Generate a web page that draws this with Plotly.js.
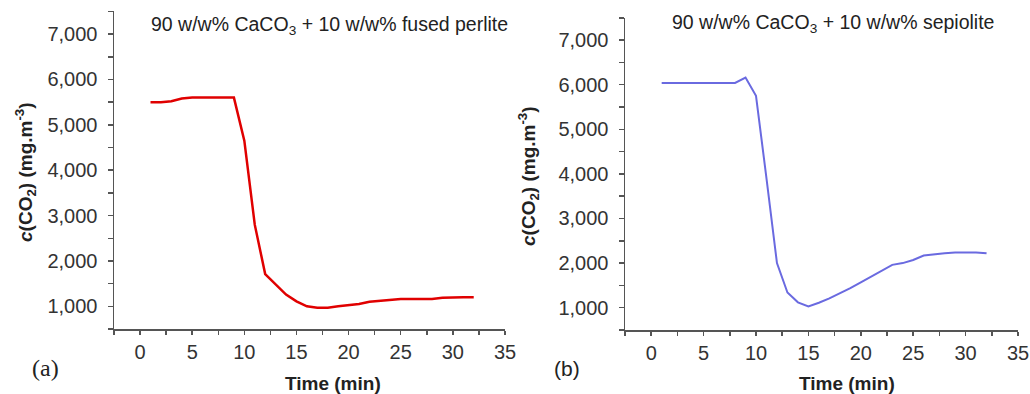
<!DOCTYPE html>
<html>
<head>
<meta charset="utf-8">
<script src="https://cdn.plot.ly/plotly-3.0.1.min.js"></script>
<style>html,body{margin:0;padding:0;background:#fff;}#chart{width:1030px;height:394px;}</style>
</head>
<body>
<div id="chart"></div>
<script>
// Time (min)
const timeA = [1,2,3,4,5,6,7,8,9,10,11,12,13,14,15,16,17,18,19,20,21,22,23,24,25,26,27,28,29,30,31,32];
// c(CO2) for 90 w/w% CaCO3 + 10 w/w% fused perlite (mg.m-3)
const perlite = [5500,5500,5520,5580,5600,5600,5600,5600,5600,4650,2800,1710,1480,1260,1110,1000,970,970,1000,1020,1050,1100,1120,1150,1160,1160,1160,1160,1190,1200,1200,1200];
const timeB = [1,2,3,4,5,6,7,8,9,10,11,12,13,14,15,16,17,18,19,20,21,22,23,24,25,26,27,28,29,30,31,32];
// c(CO2) for 90 w/w% CaCO3 + 10 w/w% sepiolite (mg.m-3)
const sepiolite = [6040,6040,6040,6040,6040,6040,6040,6040,6160,5750,3900,2000,1340,1120,1030,1110,1210,1320,1440,1570,1700,1830,1960,2000,2070,2170,2200,2220,2240,2240,2240,2220];

const yTicks = [1000,2000,3000,4000,5000,6000,7000];
const yTickText = ['1,000','2,000','3,000','4,000','5,000','6,000','7,000'];
const xTicks = [0,5,10,15,20,25,30,35];
const titleA = '90 w/w% CaCO<sub>3</sub> + 10 w/w% fused perlite';
const titleB = '90 w/w% CaCO<sub>3</sub> + 10 w/w% sepiolite';
const yTitle = '<i>c</i>(CO<sub>2</sub>) (mg.m<sup>-3</sup>)';
const xTitle = 'Time (min)';

const W = 1030, H = 394;
const axisColor = '#555';
const tickFont = {family: 'Arial, Liberation Sans, sans-serif', size: 20, color: '#333'};

function xax(domain) {
  return {
    domain: domain, range: [-2.5, 35], showgrid: false, zeroline: false,
    showline: true, linecolor: axisColor, linewidth: 1.5,
    ticks: 'outside', ticklen: 4, tickwidth: 1.5, tickcolor: axisColor,
    tickvals: xTicks, tickfont: tickFont,
    minor: {dtick: 2.5, tick0: 0, ticks: 'outside', ticklen: 4, tickwidth: 1.5, tickcolor: axisColor, showgrid: false},
    fixedrange: true
  };
}
function yax(domain, anchor) {
  return {
    domain: domain, range: [500, 7500], showgrid: false, zeroline: false,
    showline: true, linecolor: axisColor, linewidth: 1.5,
    ticks: 'outside', ticklen: 5, tickwidth: 1.5, tickcolor: axisColor,
    tickvals: yTicks, ticktext: yTickText, tickfont: tickFont,
    minor: {dtick: 500, tick0: 0, ticks: 'outside', ticklen: 5, tickwidth: 1.5, tickcolor: axisColor, showgrid: false},
    ticklabelstandoff: 6, anchor: anchor, fixedrange: true
  };
}

const data = [
  {x: timeA, y: perlite, xaxis: 'x', yaxis: 'y', mode: 'lines', line: {color: '#e00000', width: 2.5}, hoverinfo: 'skip'},
  {x: timeB, y: sepiolite, xaxis: 'x2', yaxis: 'y2', mode: 'lines', line: {color: '#6a6ae0', width: 2}, hoverinfo: 'skip'}
];

const sans = 'Arial, Liberation Sans, sans-serif';
const layout = {
  width: W, height: H,
  margin: {l: 0, r: 0, t: 0, b: 0},
  paper_bgcolor: '#fff', plot_bgcolor: '#fff',
  showlegend: false,
  xaxis: Object.assign(xax([114/W, 505/W]), {anchor: 'y'}),
  yaxis: yax([65/H, 382.6/H], 'x'),
  xaxis2: Object.assign(xax([625/W, 1018/W]), {anchor: 'y2'}),
  yaxis2: yax([64/H, 376.25/H], 'x2'),
  annotations: [
    {text: titleA, xref: 'paper', yref: 'paper', x: 329/W, y: 1 - 25/H, showarrow: false, xanchor: 'center', yanchor: 'middle', font: {family: sans, size: 19.5, color: '#222'}},
    {text: titleB, xref: 'paper', yref: 'paper', x: 833/W, y: 1 - 24/H, showarrow: false, xanchor: 'center', yanchor: 'middle', font: {family: sans, size: 19.5, color: '#222'}},
    {text: yTitle, xref: 'paper', yref: 'paper', x: 25/W, y: 1 - 172/H, textangle: -90, showarrow: false, xanchor: 'center', yanchor: 'middle', font: {family: sans, size: 19, color: '#222', weight: 'bold'}},
    {text: yTitle, xref: 'paper', yref: 'paper', x: 528/W, y: 1 - 176/H, textangle: -90, showarrow: false, xanchor: 'center', yanchor: 'middle', font: {family: sans, size: 19, color: '#222', weight: 'bold'}},
    {text: xTitle, xref: 'paper', yref: 'paper', x: 333/W, y: 1 - 383/H, showarrow: false, xanchor: 'center', yanchor: 'middle', font: {family: sans, size: 19, color: '#222', weight: 'bold'}},
    {text: xTitle, xref: 'paper', yref: 'paper', x: 847/W, y: 1 - 383/H, showarrow: false, xanchor: 'center', yanchor: 'middle', font: {family: sans, size: 19, color: '#222', weight: 'bold'}},
    {text: '(a)', xref: 'paper', yref: 'paper', x: 45/W, y: 1 - 368/H, showarrow: false, xanchor: 'center', yanchor: 'middle', font: {family: 'Liberation Serif, Times New Roman, serif', size: 24, color: '#222'}},
    {text: '(b)', xref: 'paper', yref: 'paper', x: 567/W, y: 1 - 368/H, showarrow: false, xanchor: 'center', yanchor: 'middle', font: {family: sans, size: 21, color: '#222'}}
  ]
};

Plotly.newPlot('chart', data, layout, {staticPlot: true, displayModeBar: false});
</script>
</body>
</html>
